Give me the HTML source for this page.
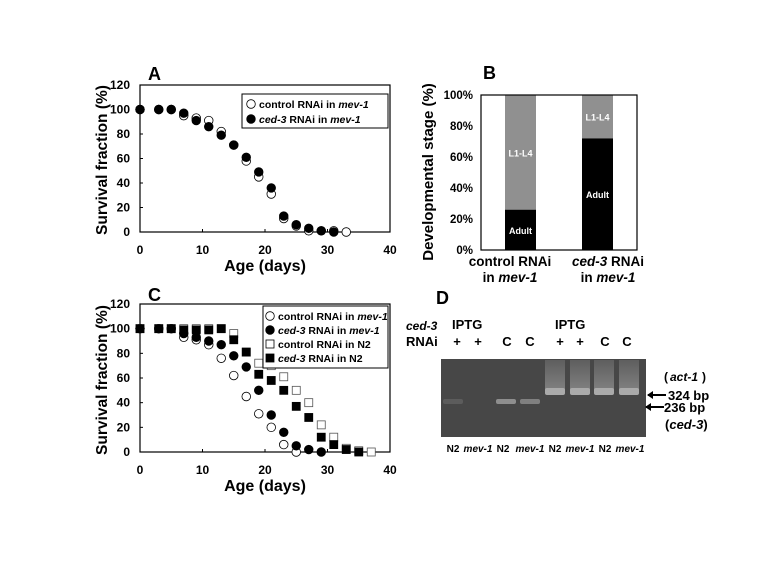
<!DOCTYPE html>
<html><head><meta charset="utf-8"><style>
body{margin:0;background:#fff;width:769px;height:577px;overflow:hidden;font-family:"Liberation Sans",Arial,sans-serif}
svg text{font-family:"Liberation Sans",Arial,sans-serif;font-weight:bold}
</style></head><body>
<svg id="fig" width="769" height="577" xmlns="http://www.w3.org/2000/svg">
<defs>
<linearGradient id="smear" x1="0" y1="0" x2="0" y2="1"><stop offset="0" stop-color="#5e5e5e"/><stop offset="1" stop-color="#808080"/></linearGradient>
</defs>
<g id="A"></g>
<g id="B"></g>
<g id="C"></g>
<g id="D"></g>
</svg>
<script>
const daysA=[0,3,5,7,9,11,13,15,17,19,21,23,25,27,29,31,33];
const ctrlA=[100,100,100,95,93,91,82,71,58,45,31,11,5,1,1,1,0];
const ced3A=[100,100,100,97,91,86,79,71,61,49,36,13,6,3,1,0,null];
const daysC=[0,3,5,7,9,11,13,15,17,19,21,23,25,27,29,31,33,35,37];
const ctrlMevC=[100,100,100,93,91,87,76,62,45,31,20,6,0,null,null,null,null,null,null];
const ced3MevC=[100,100,100,96,93,90,87,78,69,50,30,16,5,2,0,null,null,null,null];
const ctrlN2C=[100,100,100,100,100,100,100,96,81,72,70,61,50,40,22,12,3,1,0];
const ced3N2C=[100,100,100,99,99,99,100,91,81,63,58,50,37,28,12,6,2,0,null];
const yTicks=[0,20,40,60,80,100,120];
const xTicks=[0,10,20,30,40];
const bCats=["control","ced3"];
const adultPct=[26,72];
const bTicks=["0%","20%","40%","60%","80%","100%"];
const NS="http://www.w3.org/2000/svg";
function el(p,t,a,txt){const e=document.createElementNS(NS,t);for(const k in a)e.setAttribute(k,a[k]);if(txt!=null)e.textContent=txt;p.appendChild(e);return e;}
function scatterPanel(g,x0,x1,y0,y1,series){
  const sx=v=>x0+(x1-x0)*v/40, sy=v=>y0-(y0-y1)*v/120;
  const ax=el(g,'rect',{x:x0,y:y1,width:x1-x0,height:y0-y1,fill:'none',stroke:'#000','stroke-width':1.2});
  
  yTicks.forEach(t=>{const e=el(g,'text',{x:x0-10,y:sy(t)+4,'text-anchor':'end','font-size':12},t);
    
    el(g,'line',{x1:x0,x2:x0+3,y1:sy(t),y2:sy(t),stroke:'#000'});});
  xTicks.forEach(t=>{const e=el(g,'text',{x:sx(t),y:y0+22,'text-anchor':'middle','font-size':12},t);
    
    el(g,'line',{x1:sx(t),x2:sx(t),y1:y0,y2:y0-3,stroke:'#000'});});
  series.forEach(s=>{s.vals.forEach((v,i)=>{if(v==null)return;let m;
    const cx=sx(s.x[i]),cy=sy(v);
    if(s.shape==='c')m=el(g,'circle',{cx:cx,cy:cy,r:4.3,fill:s.fill,stroke:'#000','stroke-width':0.8});
    else m=el(g,'rect',{x:cx-4,y:cy-4,width:8,height:8,fill:s.fill,stroke:s.fill==='#fff'?'#555':'#000','stroke-width':0.8});
    });});
  return {sx,sy};
}
function yTitle(g,x,y,txt,fs){const e=el(g,'text',{x:0,y:0,transform:`translate(${x},${y}) rotate(-90)`,'text-anchor':'middle','font-size':fs||16},txt);}
function xTitle(g,x,y,txt){const e=el(g,'text',{x:x,y:y,'text-anchor':'middle','font-size':16},txt);}
function label(g,x,y,txt,name){const e=el(g,'text',{x:x,y:y,'font-size':18},txt);}
function legItem(g,x,y,shape,fill,html){
  let m;if(shape==='c')m=el(g,'circle',{cx:x,cy:y,r:4.3,fill:fill,stroke:'#000','stroke-width':0.8});
  else m=el(g,'rect',{x:x-4,y:y-4,width:8,height:8,fill:fill,stroke:'#000','stroke-width':0.8});
  const t=el(g,'text',{x:x+8,y:y+4,'font-size':10.5});t.innerHTML=html;
  }
// A
const A=document.getElementById('A');
label(A,148,80,'A','panel-a-label');
scatterPanel(A,140,390,232,85,[{x:daysA,vals:ctrlA,shape:'c',fill:'#fff',name:'control-mev1'},{x:daysA,vals:ced3A,shape:'c',fill:'#000',name:'ced3-mev1'}]);
yTitle(A,107,160,'Survival fraction (%)',15.5);xTitle(A,265,271,'Age (days)');
el(A,'rect',{x:242,y:94,width:146,height:34,fill:'#fff',stroke:'#000','stroke-width':1});
legItem(A,251,104,'c','#fff','control RNAi in <tspan font-style="italic">mev-1</tspan>');
legItem(A,251,119,'c','#000','<tspan font-style="italic">ced-3</tspan> RNAi in <tspan font-style="italic">mev-1</tspan>');
// C
const C=document.getElementById('C');
label(C,148,301,'C','panel-c-label');
scatterPanel(C,140,390,452,304,[{x:daysC,vals:ctrlMevC,shape:'c',fill:'#fff',name:'control-mev1'},{x:daysC,vals:ced3MevC,shape:'c',fill:'#000',name:'ced3-mev1'},{x:daysC,vals:ctrlN2C,shape:'s',fill:'#fff',name:'control-n2'},{x:daysC,vals:ced3N2C,shape:'s',fill:'#000',name:'ced3-n2'}]);
yTitle(C,107,380,'Survival fraction (%)',15.5);xTitle(C,265,491,'Age (days)');
el(C,'rect',{x:263,y:306,width:125,height:62,fill:'#fff',stroke:'#000','stroke-width':1});
legItem(C,270,316,'c','#fff','control RNAi in <tspan font-style="italic">mev-1</tspan>');
legItem(C,270,330,'c','#000','<tspan font-style="italic">ced-3</tspan> RNAi in <tspan font-style="italic">mev-1</tspan>');
legItem(C,270,344,'s','#fff','control RNAi in N2');
legItem(C,270,358,'s','#000','<tspan font-style="italic">ced-3</tspan> RNAi in N2');
// B
const B=document.getElementById('B');
label(B,483,79,'B','panel-b-label');
const bx0=481,bx1=637,by0=250,by1=95,bsy=v=>by0-(by0-by1)*v/100;
bTicks.forEach((t,i)=>{const e=el(B,'text',{x:bx0-8,y:bsy(i*20)+4,'text-anchor':'end','font-size':11.5},t);});
const bxs=[505,582];
bCats.forEach((c,i)=>{const x=bxs[i],w=31;
  const g1=el(B,'rect',{x:x,y:by1,width:w,height:bsy(adultPct[i])-by1,fill:'#909090'});
  const g2=el(B,'rect',{x:x,y:bsy(adultPct[i]),width:w,height:by0-bsy(adultPct[i]),fill:'#000'});
  const ly=(by1+bsy(adultPct[i]))/2+4, ay=(by0+bsy(adultPct[i]))/2+4;
  el(B,'text',{x:x+w/2,y:ly,'text-anchor':'middle','font-size':9,fill:'#fff'},'L1-L4');
  el(B,'text',{x:x+w/2,y:ay,'text-anchor':'middle','font-size':9,fill:'#fff'},'Adult');});
el(B,'rect',{x:bx0,y:by1,width:bx1-bx0,height:by0-by1,fill:'none',stroke:'#000','stroke-width':1.2});
yTitle(B,433,172,'Developmental stage (%)',15);
[['control RNAi','in <tspan font-style="italic">mev-1</tspan>',510],['<tspan font-style="italic">ced-3</tspan> RNAi','in <tspan font-style="italic">mev-1</tspan>',608]].forEach(a=>{
 const t1=el(B,'text',{x:a[2],y:266,'text-anchor':'middle','font-size':13.5});t1.innerHTML=a[0];
 const t2=el(B,'text',{x:a[2],y:282,'text-anchor':'middle','font-size':13.5});t2.innerHTML=a[1];});
// D
const D=document.getElementById('D');
label(D,436,304,'D','panel-d-label');
el(D,'text',{x:406,y:330,'font-size':12,'font-style':'italic'},'ced-3');
el(D,'text',{x:406,y:346,'font-size':13},'RNAi');
el(D,'text',{x:452,y:329,'font-size':13},'IPTG');
el(D,'text',{x:555,y:329,'font-size':13},'IPTG');
const lanesX=[457,478,507,530,560,580,605,627];
const marks=['+','+','C','C','+','+','C','C'];
marks.forEach((m,i)=>el(D,'text',{x:lanesX[i],y:346,'text-anchor':'middle','font-size':13},m));
const gel=el(D,'rect',{x:441,y:359,width:205,height:78,fill:'#474747'});
[[453,402,'#5c5c5c'],[506,402,'#8e8e8e'],[530,402,'#808080']].forEach(b=>el(D,'rect',{x:b[0]-10,y:b[1]-3,width:20,height:5,fill:b[2],rx:2}));
[555,580,604,629].forEach(x=>{el(D,'rect',{x:x-10,y:360,width:20,height:30,fill:'url(#smear)'});el(D,'rect',{x:x-10,y:388,width:20,height:7,fill:'#aaa',rx:2});});
el(D,'text',{x:664,y:381,'font-size':12},'(');
el(D,'text',{x:670,y:381,'font-size':12,'font-style':'italic'},'act-1');
el(D,'text',{x:702,y:381,'font-size':12},')');
el(D,'line',{x1:648,y1:395,x2:666,y2:395,stroke:'#000','stroke-width':2});el(D,'path',{d:'M647 395 l6 -4 v8z',fill:'#000'});
el(D,'text',{x:668,y:400,'font-size':13},'324 bp');
el(D,'line',{x1:646,y1:407,x2:664,y2:407,stroke:'#000','stroke-width':2});el(D,'path',{d:'M645 407 l6 -4 v8z',fill:'#000'});
el(D,'text',{x:664,y:412,'font-size':13},'236 bp');
const t=el(D,'text',{x:665,y:429,'font-size':13});t.innerHTML='(<tspan font-style="italic">ced-3</tspan>)';
const names=['N2','mev-1','N2','mev-1','N2','mev-1','N2','mev-1'];
const lx=[453,478,503,530,555,580,605,630];
names.forEach((n,i)=>el(D,'text',{x:lx[i],y:452,'text-anchor':'middle','font-size':10,'font-style':n==='N2'?'normal':'italic'},n));
</script>
</body></html>
